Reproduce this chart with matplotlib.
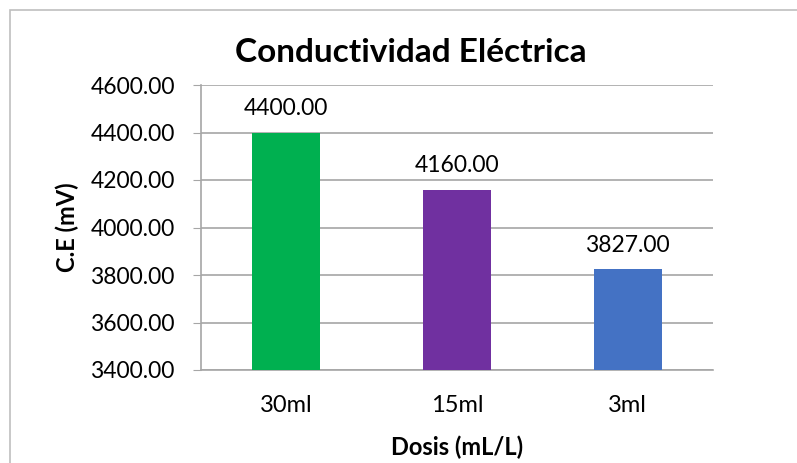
import matplotlib.pyplot as plt
from matplotlib.patches import Rectangle

# data
categories = ['30ml', '15ml', '3ml']
values = [4400.00, 4160.00, 3827.00]
colors = ['#00b050', '#7030a0', '#4472c4']
y_ticks = [3400, 3600, 3800, 4000, 4200, 4400, 4600]

plt.rcParams['font.family'] = ['Lato', 'DejaVu Sans']

fig = plt.figure(figsize=(7.97, 4.63), dpi=100)
ax = fig.add_axes([201 / 797, 1 - 370 / 463, 512 / 797, 285 / 463])

x = range(len(categories))
bars = ax.bar(x, values, width=0.4, color=colors, zorder=3)
for b, v in zip(bars, values):
    ax.text(b.get_x() + b.get_width() / 2, v + 55, '%.2f' % v,
            ha='center', va='bottom', fontsize=16.5)

ax.set_ylim(3400, 4600)
ax.set_xlim(-0.5, 2.5)
ax.set_yticks(y_ticks)
ax.set_yticklabels(['%.2f' % t for t in y_ticks], fontsize=16.5)
ax.set_xticks(list(x))
ax.set_xticklabels(categories, fontsize=17)
ax.yaxis.grid(True, color='#a6a6a6', linewidth=1.2, zorder=0)
for s in ['top', 'right']:
    ax.spines[s].set_visible(False)
ax.spines['bottom'].set_color('#a6a6a6')
ax.spines['left'].set_color('#a6a6a6')
ax.spines['bottom'].set_linewidth(1.2)
ax.spines['left'].set_linewidth(1.2)
ax.tick_params(axis='y', length=5.8, color='#a6a6a6', pad=13)
ax.tick_params(axis='x', length=0, pad=18)

ax.set_ylabel('C.E (mV)', fontsize=17, fontweight='bold')
ax.yaxis.set_label_coords(-0.238, 0.5)
ax.set_xlabel('Dosis (mL/L)', fontsize=17, fontweight='bold', va='center')
ax.xaxis.set_label_coords(0.5, -0.27)
fig.text(411 / 797, 1 - 53 / 463, 'Conductividad Eléctrica', ha='center',
         va='center', fontsize=24, fontweight='bold')

# chart frame
fig.patches.append(Rectangle((10 / 797, -0.1), 1.1, 1 - 10 / 463 + 0.1,
                             transform=fig.transFigure, fill=False,
                             edgecolor='#bfbfbf', linewidth=1.2))

fig.savefig('out.png', dpi=100)
